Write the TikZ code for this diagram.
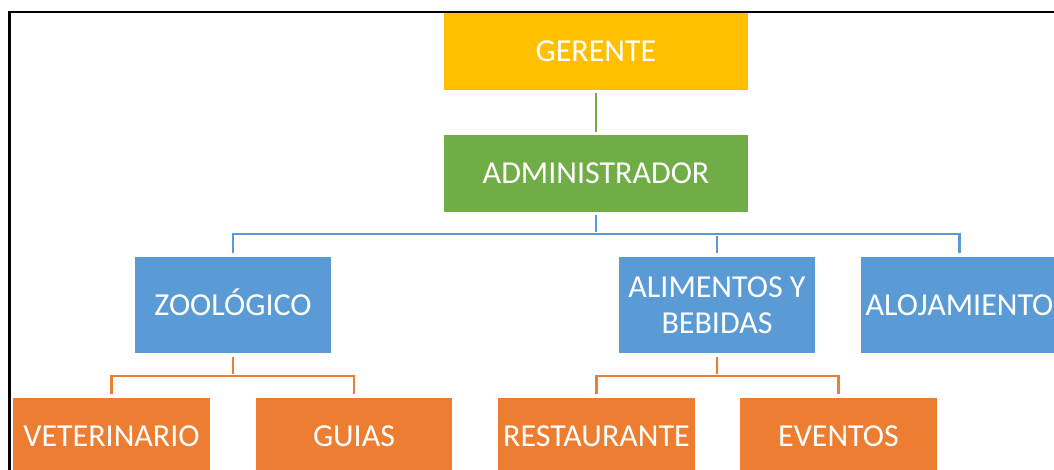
\documentclass[tikz,border=0pt]{standalone}
\usepackage{fontspec}
\setmainfont{Carlito}
\definecolor{cgold}{HTML}{FFC000}
\definecolor{cgreen}{HTML}{70AD47}
\definecolor{cblue}{HTML}{5B9BD5}
\definecolor{corange}{HTML}{ED7D31}
\tikzset{
  box/.style={rectangle, draw=white, line width=1.2pt, inner sep=0pt,
    minimum width=198pt, minimum height=98pt, text=white,
    font=\fontsize{32}{36}\selectfont, align=center},
  one/.style={text height=20.6pt, text depth=0pt},
  goldbox/.style={box, one, fill=cgold, minimum width=305pt, minimum height=78pt},
  greenbox/.style={box, one, fill=cgreen, minimum width=305pt, minimum height=78pt},
  bluebox/.style={box, fill=cblue},
  orangebox/.style={box, one, fill=corange, minimum height=78pt},
  conn/.style={line width=2.8pt, shorten <=2pt, shorten >=2pt},
  gline/.style={conn, draw=cgreen},
  bline/.style={conn, draw=cblue},
  oline/.style={conn, draw=corange},
  frame/.style={draw=black, line width=2.2pt}
}
\begin{document}
\begin{tikzpicture}[x=1pt,y=-1pt]
\useasboundingbox (0,0) rectangle (1054,470);
\clip (0,0) rectangle (1054,470);
\fill[white] (0,0) rectangle (1054,470);
% nodes
\node[goldbox] (ger) at (596,51.5) {GERENTE};
\node[greenbox] (adm) at (596,173.5) {ADMINISTRADOR};
\node[bluebox, one] (zoo) at (233,305) {ZOOLÓGICO};
\node[bluebox] (ali) at (717,305) {ALIMENTOS Y\\BEBIDAS};
\node[bluebox, one] (alo) at (959.5,305) {ALOJAMIENTO};
\node[orangebox] (vet) at (111.5,436) {VETERINARIO};
\node[orangebox] (gui) at (354,436) {GUIAS};
\node[orangebox] (res) at (596.5,436) {RESTAURANTE};
\node[orangebox] (eve) at (838.5,436) {EVENTOS};
% bus coordinates
\coordinate (bus1) at (596,234);
\coordinate (bus2) at (233,376);
\coordinate (bus3) at (717,376);
% connectors
\draw[gline] (ger.south) -- (adm.north);
\draw[bline] (adm.south) -- (adm.south |- bus1);
\draw[bline] (zoo.north) |- (bus1) -| (alo.north);
\draw[bline] (ali.north) -- (ali.north |- bus1);
\draw[oline] (zoo.south) -- (zoo.south |- bus2);
\draw[oline] (vet.north) |- (bus2) -| (gui.north);
\draw[oline] (ali.south) -- (ali.south |- bus3);
\draw[oline] (res.north) |- (bus3) -| (eve.north);
% frame
\draw[frame] (9.5,480) -- (9.5,12) -- (1060,12);
\end{tikzpicture}
\end{document}
